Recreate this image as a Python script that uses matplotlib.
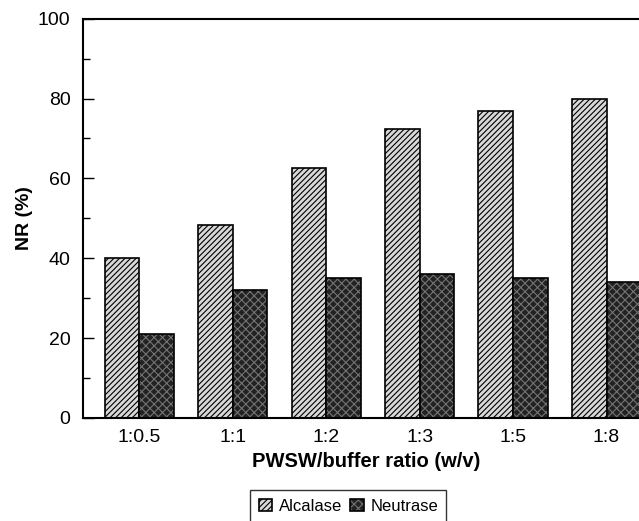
import numpy as np
import matplotlib
matplotlib.use('Agg')
import matplotlib.pyplot as plt
from matplotlib.ticker import MultipleLocator

plt.rcParams['font.family'] = ['Liberation Sans', 'DejaVu Sans']
plt.rcParams['hatch.linewidth'] = 0.8

ratios = ['1:0.5', '1:1', '1:2', '1:3', '1:5', '1:8']
alcalase = [40, 48.2, 62.5, 72.5, 77, 80]
neutrase = [21, 32, 35, 36, 35, 34]

fig = plt.figure(figsize=(6.39, 5.21), dpi=100)
ax = fig.add_axes([0.130, 0.198, 0.885, 0.766])

x = np.arange(len(ratios))
w = 0.37
plt.rcParams['hatch.color'] = '#444444'
ax.bar(x - w / 2, alcalase, w, facecolor='#d8d8d8', edgecolor='black',
       linewidth=1.2, hatch='//////', label='Alcalase')
b2 = ax.bar(x + w / 2, neutrase, w, facecolor='#222222', edgecolor='black',
            linewidth=1.2, label='Neutrase')
for b in b2:
    b.set_hatch('xxxx')
    b._hatch_color = (0.45, 0.45, 0.45, 1.0)

ax.set_xlim(-0.6, 5.45)
ax.set_ylim(0, 100)
ax.set_xticks(x)
ax.set_xticklabels(ratios)
ax.yaxis.set_major_locator(MultipleLocator(20))
ax.yaxis.set_minor_locator(MultipleLocator(10))
ax.tick_params(axis='y', which='major', direction='in', length=8, width=1,
               labelsize=14, pad=9)
ax.tick_params(axis='y', which='minor', direction='in', length=5, width=1)
ax.tick_params(axis='x', length=0, labelsize=14, pad=8)
ax.spines['right'].set_visible(False)
for s in ['left', 'top', 'bottom']:
    ax.spines[s].set_linewidth(1.5)

ax.set_xlabel('PWSW/buffer ratio (w/v)', fontsize=14.5, fontweight='bold', labelpad=4)
ax.set_ylabel('NR (%)', fontsize=14, fontweight='bold')
ax.yaxis.set_label_coords(-0.088, 0.5)

fig.legend(loc='upper center', bbox_to_anchor=(0.545, 0.075), ncol=2, fontsize=12,
           frameon=True, fancybox=False, edgecolor='black', handlelength=0.8,
           handleheight=0.8, handletextpad=0.4, columnspacing=0.5,
           borderpad=0.5)

fig.savefig('out.png', dpi=100)
